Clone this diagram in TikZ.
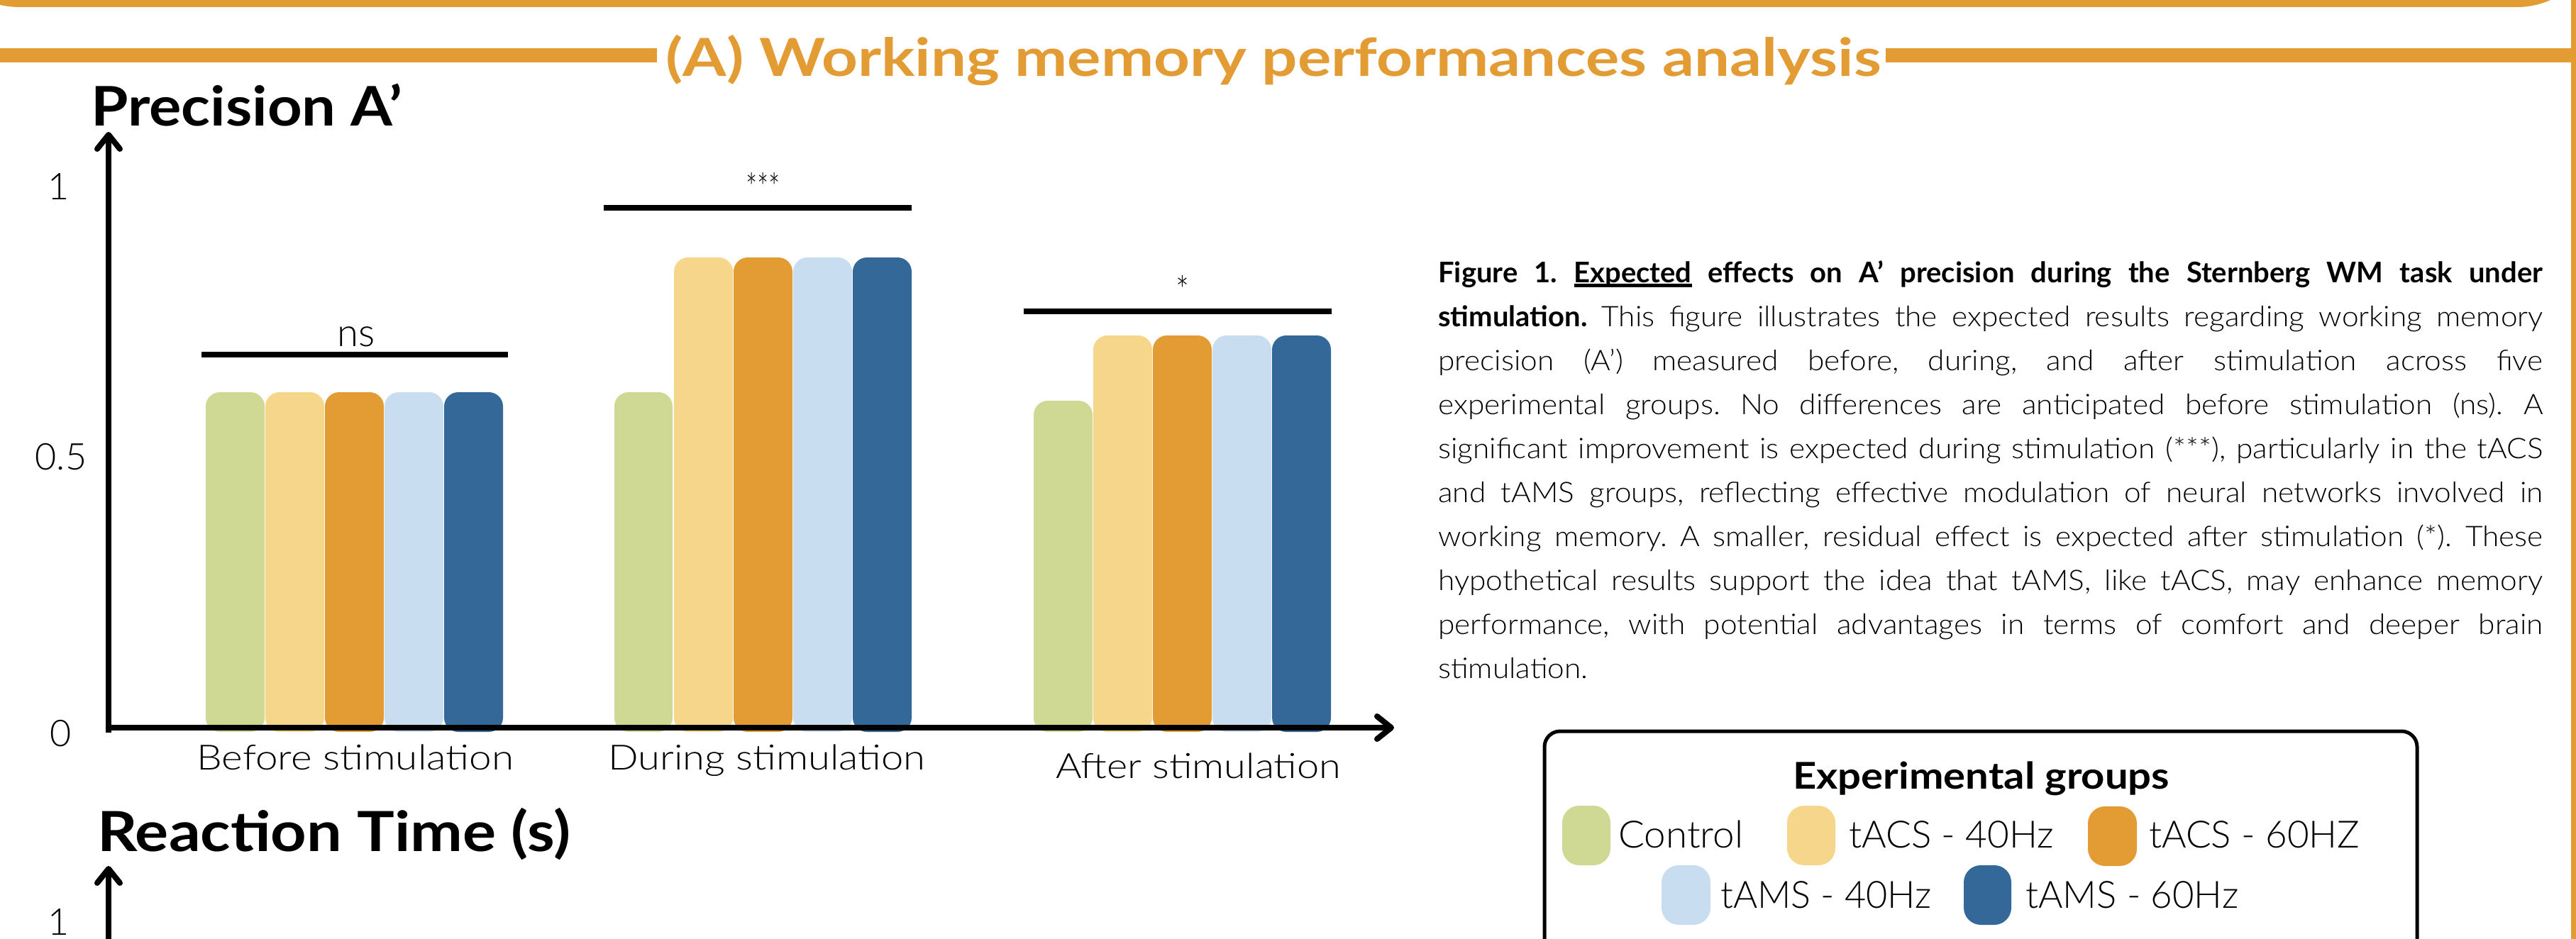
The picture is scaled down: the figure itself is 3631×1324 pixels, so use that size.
\documentclass[tikz,border=0pt]{standalone}
\usepackage{fontspec}
\usepackage{graphicx}
\setmainfont{Lato}
\newfontfamily\lgtf{Lato Light}
\newfontfamily\partf{Lato Light}[FakeStretch=1.06]
\usetikzlibrary{arrows.meta}
\definecolor{corange}{RGB}{227,155,52}
\definecolor{cgreen}{RGB}{207,217,147}
\definecolor{cyellow}{RGB}{246,214,138}
\definecolor{clblue}{RGB}{200,221,240}
\definecolor{cdblue}{RGB}{52,104,153}
\newcommand{\fitw}[2]{\resizebox{#1}{\height}{#2}}
\newcommand{\ulx}[1]{\setbox0=\hbox{#1}\rlap{\rule[-7pt]{\wd0}{5pt}}\box0\relax}
\newcommand{\hbf}{\normalfont\bfseries}
\tikzset{
  lbl/.style={inner sep=0pt, anchor=base west},
  ticklbl/.style={inner sep=0pt, anchor=center, font=\fontsize{52}{56}\selectfont\lgtf},
  axisline/.style={line width=8pt, -{Straight Barb[length=20pt,width=32pt,round]}},
  sigline/.style={line width=8pt},
  barshape/.style={rounded corners=20pt},
  swatch/.style={rounded corners=24pt},
}
\begin{document}
\begin{tikzpicture}[x=1pt,y=-1pt]
\useasboundingbox (0,0) rectangle (3631,1324);
\begin{scope}
\clip (0,0) rectangle (3631,1324);
% frame pieces
\fill[corange, rounded corners=115pt] (-88,-200) rectangle (3663,10);
\fill[corange] (0,68) rectangle (926,88);
\fill[corange] (2658,68) rectangle (3624,88);
\fill[corange] (3624,0) rectangle (3645,1324);
\node[lbl, text=corange] (title) at (938,108) {\fitw{1713pt}{\fontsize{74}{80}\selectfont\bfseries (A) Working memory performances analysis}};

% chart titles
\node[lbl] (ptitle) at (128,178) {\fitw{439pt}{\fontsize{77}{80}\selectfont\bfseries Precision A’}};
\node[lbl] (rtitle) at (137,1200) {\fitw{667pt}{\fontsize{78}{80}\selectfont\bfseries Reaction Time (s)}};

% bars: before
\fill[cgreen, barshape]  (290,553) rectangle (373,1032);
\fill[cyellow, barshape] (374,553) rectangle (457,1032);
\fill[corange, barshape] (458,553) rectangle (541,1032);
\fill[clblue, barshape]  (542,553) rectangle (625,1032);
\fill[cdblue, barshape]  (626,553) rectangle (709,1032);
% bars: during
\fill[cgreen, barshape]  (866,553) rectangle (948,1032);
\fill[cyellow, barshape] (950,363) rectangle (1033,1032);
\fill[corange, barshape] (1034,363) rectangle (1117,1032);
\fill[clblue, barshape]  (1118,363) rectangle (1201,1032);
\fill[cdblue, barshape]  (1202,363) rectangle (1285,1032);
% bars: after
\fill[cgreen, barshape]  (1457,565) rectangle (1540,1032);
\fill[cyellow, barshape] (1541,473) rectangle (1624,1032);
\fill[corange, barshape] (1625,473) rectangle (1708,1032);
\fill[clblue, barshape]  (1709,473) rectangle (1792,1032);
\fill[cdblue, barshape]  (1793,473) rectangle (1876,1032);

% axes
\coordinate (yb) at (153,1033);
\coordinate (yt) at (153,186);
\coordinate (xl) at (149,1026);
\coordinate (xr) at (1965,1026);
\coordinate (y2b) at (153,1340);
\coordinate (y2t) at (153,1221);
\draw[axisline] (yb) -- (yt);
\draw[axisline] (xl) -- (xr);
\draw[axisline] (y2b) -- (y2t);

% tick labels
\node[ticklbl] (t1) at (83,263) {1};
\node[ticklbl] (t05) at (86,644) {0.5};
\node[ticklbl] (t0) at (86,1034) {0};
\node[ticklbl] (t2) at (83,1300) {1};

% category labels
\node[lbl] (cbefore) at (277,1085) {\fitw{447pt}{\fontsize{49}{52}\selectfont\lgtf Before stimulation}};
\node[lbl] (cduring) at (857,1085) {\fitw{447pt}{\fontsize{49}{52}\selectfont\lgtf During stimulation}};
\node[lbl] (cafter) at (1488,1097) {\fitw{402pt}{\fontsize{49}{52}\selectfont\lgtf After stimulation}};

% significance
\coordinate (ns1) at (284,500); \coordinate (ns2) at (716,500);
\coordinate (s31) at (851,293); \coordinate (s32) at (1285,293);
\coordinate (s11) at (1443,439); \coordinate (s12) at (1877,439);
\draw[sigline] (ns1) -- (ns2);
\draw[sigline] (s31) -- (s32);
\draw[sigline] (s11) -- (s12);
\node[lbl] (nslbl) at (475,488) {\fitw{53pt}{\fontsize{55}{58}\selectfont\lgtf ns}};
\node[lbl] (s3lbl) at (1051,284) {\fitw{49pt}{\fontsize{55}{58}\selectfont\lgtf ***}};
\node[lbl] (s1lbl) at (1657,429) {\fitw{19pt}{\fontsize{55}{58}\selectfont\lgtf *}};

% caption paragraph
\node[lbl] (para) at (2027,398) {\parbox[t]{1557pt}{\fontsize{40}{62.1}\selectfont\frenchspacing\tolerance=10000\hyphenpenalty=10000\partf
{\hbf Figure 1. \ulx{Expected} effects on A’ precision during the Sternberg WM task under\linebreak
stimulation.} This figure illustrates the expected results regarding working memory\linebreak
precision (A’) measured before, during, and after stimulation across five\linebreak
experimental groups. No differences are anticipated before stimulation (ns). A\linebreak
significant improvement is expected during stimulation (***), particularly in the tACS\linebreak
and tAMS groups, reflecting effective modulation of neural networks involved in\linebreak
working memory. A smaller, residual effect is expected after stimulation (*). These\linebreak
hypothetical results support the idea that tAMS, like tACS, may enhance memory\linebreak
performance, with potential advantages in terms of comfort and deeper brain\linebreak
stimulation.}};

% legend
\draw[line width=5pt, rounded corners=22pt] (2177,1031) rectangle (3407,1420);
\node[lbl] (legtitle) at (2527,1112) {\fitw{531pt}{\fontsize{52}{56}\selectfont\bfseries Experimental groups}};
\fill[cgreen, swatch]  (2202,1136) rectangle (2270,1220);
\fill[cyellow, swatch] (2519,1136) rectangle (2587,1220);
\fill[corange, swatch] (2943,1137) rectangle (3012,1221);
\fill[clblue, swatch]  (2342,1220) rectangle (2411,1304);
\fill[cdblue, swatch]  (2768,1220) rectangle (2835,1304);
\node[lbl] (lg1) at (2281,1195) {\fitw{176pt}{\fontsize{53}{56}\selectfont\lgtf Control}};
\node[lbl] (lg2) at (2606,1195) {\fitw{289pt}{\fontsize{53}{56}\selectfont\lgtf tACS - 40Hz}};
\node[lbl] (lg3) at (3029,1195) {\fitw{297pt}{\fontsize{53}{56}\selectfont\lgtf tACS - 60HZ}};
\node[lbl] (lg4) at (2425,1280) {\fitw{297pt}{\fontsize{53}{56}\selectfont\lgtf tAMS - 40Hz}};
\node[lbl] (lg5) at (2855,1280) {\fitw{300pt}{\fontsize{53}{56}\selectfont\lgtf tAMS - 60Hz}};
\end{scope}
\end{tikzpicture}
\end{document}
